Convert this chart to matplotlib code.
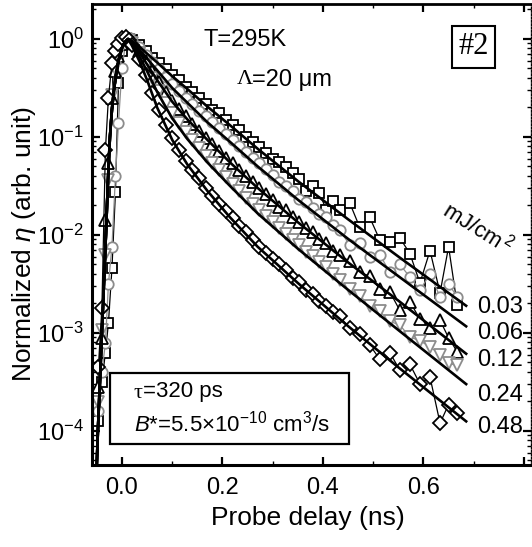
import numpy as np
import matplotlib
matplotlib.use("Agg")
import matplotlib.pyplot as plt
from matplotlib.patches import Rectangle
from matplotlib.ticker import FixedLocator, FixedFormatter, LogLocator, NullFormatter, MultipleLocator

plt.rcParams['font.family'] = ['Liberation Sans', 'DejaVu Sans']
plt.rcParams['mathtext.fontset'] = 'custom'
plt.rcParams['mathtext.rm'] = 'Liberation Sans'
plt.rcParams['mathtext.it'] = 'Liberation Sans:italic'
plt.rcParams['mathtext.bf'] = 'Liberation Sans:bold'

# ---------------- data (log10 of normalized eta) ----------------
t_ns = [-0.047, -0.040, -0.033, -0.027, -0.020, -0.013, -0.007, 0.000, 0.007, 0.013,
        0.020, 0.033, 0.047, 0.060, 0.073, 0.087, 0.100, 0.113, 0.127, 0.140,
        0.153, 0.167, 0.180, 0.193, 0.207, 0.220, 0.233, 0.247, 0.260, 0.273,
        0.287, 0.300, 0.313, 0.327, 0.340, 0.353, 0.367, 0.380, 0.393, 0.407, 0.420,
        0.433, 0.453, 0.473, 0.493, 0.513, 0.533, 0.553, 0.573, 0.593, 0.613, 0.633, 0.650, 0.667]

log_eta_003 = [-3.90, -3.50, -3.20, -2.90, -2.34, -1.56, -0.45, -0.12, -0.02, 0.00,
               -0.01, -0.06, -0.12, -0.19, -0.24, -0.31, -0.37, -0.42, -0.49, -0.54,
               -0.60, -0.66, -0.72, -0.76, -0.83, -0.88, -0.93, -1.00, -1.05, -1.10,
               -1.16, -1.22, -1.26, -1.31, -1.37, -1.43, -1.55, -1.50, -1.57, -1.75, -1.65,
               -1.74, -1.67, -1.92, -1.82, -2.05, -2.07, -2.03, -2.19, -2.49, -2.16, -2.59, -2.12, -2.71]
log_eta_006 = [-3.80, -3.40, -3.10, -2.50, -2.12, -1.40, -0.86, -0.30, -0.05, 0.00,
               -0.02, -0.08, -0.16, -0.23, -0.31, -0.39, -0.46, -0.53, -0.60, -0.66,
               -0.73, -0.79, -0.85, -0.91, -0.97, -1.03, -1.09, -1.15, -1.21, -1.27,
               -1.33, -1.39, -1.46, -1.50, -1.55, -1.63, -1.66, -1.72, -1.79, -1.82, -1.90,
               -1.95, -2.10, -2.08, -2.22, -2.20, -2.38, -2.30, -2.43, -2.56, -2.40, -2.63, -2.50, -2.63]
log_eta_012 = [-3.55, -3.05, -1.85, -1.27, -0.60, -0.33, -0.17, -0.05, 0.00, -0.01,
               -0.03, -0.12, -0.22, -0.33, -0.44, -0.54, -0.63, -0.71, -0.79, -0.87,
               -0.94, -1.01, -1.07, -1.14, -1.21, -1.27, -1.34, -1.40, -1.46, -1.52,
               -1.58, -1.64, -1.71, -1.75, -1.82, -1.87, -1.93, -1.97, -2.04, -2.08, -2.16,
               -2.20, -2.27, -2.38, -2.42, -2.55, -2.58, -2.77, -2.68, -2.86, -2.95, -2.87, -3.05, -3.19]
log_eta_024 = [-3.70, -2.97, -2.20, -1.44, -0.57, -0.30, -0.15, -0.05, 0.00, -0.01,
               -0.04, -0.14, -0.27, -0.40, -0.53, -0.65, -0.76, -0.86, -0.95, -1.03,
               -1.11, -1.19, -1.27, -1.34, -1.41, -1.48, -1.55, -1.62, -1.68, -1.75,
               -1.81, -1.87, -1.93, -1.99, -2.05, -2.10, -2.17, -2.21, -2.28, -2.33, -2.40,
               -2.46, -2.55, -2.62, -2.72, -2.78, -2.88, -2.92, -3.04, -3.08, -3.14, -3.22, -3.31, -3.33]
log_eta_048 = [-3.35, -2.74, -1.13, -0.60, -0.25, -0.12, -0.05, 0.01, 0.02, -0.01,
               -0.06, -0.20, -0.37, -0.55, -0.72, -0.88, -1.01, -1.13, -1.24, -1.34,
               -1.42, -1.52, -1.60, -1.68, -1.76, -1.83, -1.91, -1.97, -2.05, -2.12,
               -2.18, -2.25, -2.30, -2.36, -2.44, -2.48, -2.56, -2.60, -2.67, -2.72, -2.79,
               -2.83, -2.95, -3.01, -3.12, -3.27, -3.20, -3.38, -3.32, -3.52, -3.45, -3.92, -3.73, -3.82]

# fitted curves (tau = 320 ps, B* = 5.5e-10 cm^3/s)
fit_t = [-0.0505, -0.048, -0.044, -0.040, -0.036, -0.032, -0.028, -0.024, -0.020, -0.016,
         -0.012, -0.008, -0.004, 0.000, 0.006, 0.012,
         0.020, 0.035, 0.050, 0.070, 0.100, 0.130, 0.170, 0.215, 0.270, 0.350, 0.450, 0.550, 0.687]
fit_rise = [-4.40, -4.00, -3.50, -3.00, -2.50, -2.00, -1.45, -1.00, -0.72, -0.52,
            -0.37, -0.25, -0.16, -0.09, -0.03, 0.00]
fit_decay_003 = [-0.02, -0.08, -0.15, -0.24, -0.38, -0.51, -0.69, -0.88, -1.12, -1.45, -1.84, -2.22, -2.73]
fit_decay_006 = [-0.03, -0.11, -0.20, -0.32, -0.50, -0.65, -0.85, -1.05, -1.30, -1.64, -2.04, -2.42, -2.94]
fit_decay_012 = [-0.04, -0.14, -0.26, -0.42, -0.64, -0.82, -1.03, -1.26, -1.52, -1.87, -2.28, -2.67, -3.22]
fit_decay_024 = [-0.05, -0.18, -0.33, -0.54, -0.81, -1.02, -1.26, -1.50, -1.78, -2.14, -2.56, -2.97, -3.53]
fit_decay_048 = [-0.07, -0.23, -0.42, -0.70, -1.03, -1.28, -1.55, -1.82, -2.12, -2.49, -2.93, -3.35, -3.91]

fluence_labels = ['0.03', '0.06', '0.12', '0.24', '0.48']
ytick_exps = [0, -1, -2, -3, -4]
xtick_vals = [0.0, 0.2, 0.4, 0.6, 0.8]
xtick_labels = ['0.0', '0.2', '0.4', '0.6', '']

# ---------------- figure ----------------
W, H = 532, 547
fig = plt.figure(figsize=(W / 100, H / 100), dpi=100)
L, R, T, B = 92, 531, 4, 465
ax = fig.add_axes([L / W, (H - B) / H, (R - L) / W, (B - T) / H])


def fx(px):
    return px / W


def fy(py):
    return 1 - py / H


GRAY = '#8c8c8c'
series = [
    (log_eta_003, 's', 'black', 7.5),
    (log_eta_006, 'o', GRAY, 7.5),
    (log_eta_012, '^', 'black', 9.0),
    (log_eta_024, 'v', GRAY, 9.0),
    (log_eta_048, 'D', 'black', 7.5),
]
t_arr = np.array(t_ns)
for vals, mk, col, ms in series:
    ax.plot(t_arr, 10 ** np.array(vals), marker=mk, color=col, lw=0.9,
            mfc='white', mec=col, mew=1.3, ms=ms, zorder=2)

fits = [fit_decay_003, fit_decay_006, fit_decay_012, fit_decay_024, fit_decay_048]
for dec in fits:
    ax.plot(fit_t, 10 ** np.array(fit_rise + dec), color='black', lw=1.9, zorder=3,
            solid_capstyle='butt')

ax.set_yscale('log')
ax.set_xlim(-0.0597, 0.814)
ax.set_ylim(10 ** -4.347, 10 ** 0.357)

ax.yaxis.set_major_locator(FixedLocator([10.0 ** e for e in ytick_exps]))
ax.yaxis.set_major_formatter(FixedFormatter([r'$10^{%d}$' % e for e in ytick_exps]))
ax.yaxis.set_minor_locator(LogLocator(base=10, subs=np.arange(2, 10), numticks=20))
ax.yaxis.set_minor_formatter(NullFormatter())
ax.xaxis.set_major_locator(FixedLocator(xtick_vals))
ax.xaxis.set_major_formatter(FixedFormatter(xtick_labels))
ax.xaxis.set_minor_locator(MultipleLocator(0.1))

ax.tick_params(which='major', direction='in', length=6, width=1.6, top=True, right=True,
               labelsize=17, pad=6)
ax.tick_params(which='minor', direction='in', length=3, width=1.0, top=True, right=True)
ax.tick_params(axis='x', which='major', pad=9)

for s in ['left', 'bottom']:
    ax.spines[s].set_linewidth(2.2)
ax.spines['top'].set_linewidth(2.0)
ax.spines['right'].set_linewidth(1.0)
ax.spines['right'].set_linestyle((0, (1.2, 1.2)))

# axis labels
fig.text(fx(308), fy(518), 'Probe delay (ns)', ha='center', va='center', size=19)
fig.text(fx(24), fy(244), r'Normalized $\eta$ (arb. unit)', ha='center', va='center',
         size=19, rotation=90)

# annotations
fig.text(fx(204), fy(40), 'T=295K', ha='left', va='center', size=17)
fig.text(fx(237), fy(80), 'Λ', ha='left', va='center', size=16, family='Liberation Serif')
fig.text(fx(252), fy(80), '=20 μm', ha='left', va='center', size=17)

fig.add_artist(Rectangle((fx(452), fy(68)), (495 - 452) / W, (68 - 26) / H,
                         transform=fig.transFigure, fill=False, lw=1.5, ec='black'))
fig.text(fx(473.5), fy(47), '#2', ha='center', va='center', size=22, family='Liberation Serif')

fig.add_artist(Rectangle((fx(110), fy(444)), (349 - 110) / W, (444 - 373) / H,
                         transform=fig.transFigure, fill=False, lw=1.6, ec='black'))
fig.text(fx(133), fy(393), 'τ', ha='left', va='center', size=16, family='Liberation Serif')
fig.text(fx(143), fy(391), '=320 ps', ha='left', va='center', size=16)
fig.text(fx(134), fy(424), r'$\mathit{B}$*=5.5$\times10^{-10}$ c$\mathrm{m}^{3}$/s',
         ha='left', va='center', size=16)

fig.text(fx(478), fy(228), r'mJ/c$\mathrm{m}^{\,2}$', ha='center', va='center', size=16,
         rotation=-32, rotation_mode='anchor')
label_y = [307, 333, 360, 395, 427]
for lab, py in zip(fluence_labels, label_y):
    fig.text(fx(477), fy(py), lab, ha='left', va='center', size=17)

fig.savefig('out.png', dpi=100)
